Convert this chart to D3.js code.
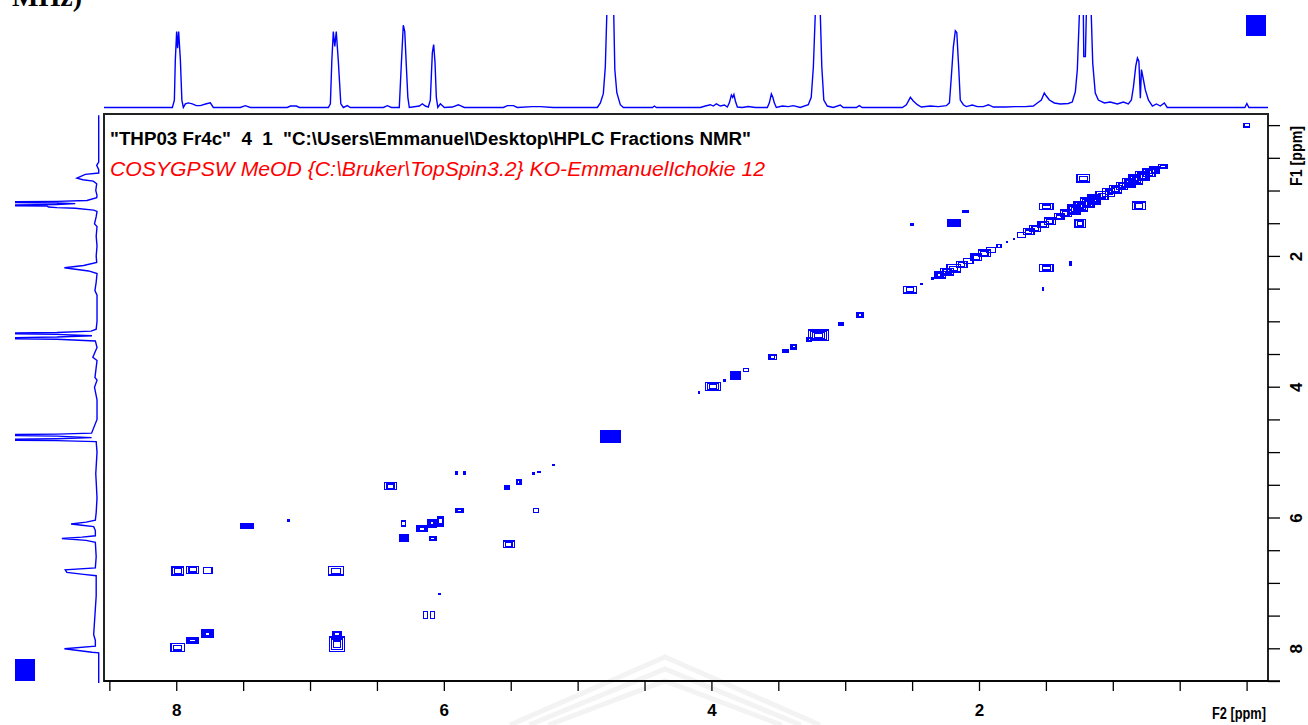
<!DOCTYPE html>
<html><head><meta charset="utf-8">
<script src="https://cdn.jsdelivr.net/npm/d3@7"></script>
<style>html,body{margin:0;padding:0;background:#fff;overflow:hidden}</style>
</head><body>
<svg id="chart" width="1308" height="725"></svg>
<script>
// ---------- data (ppm / relative intensity) ----------
// F2 projection (top): [ppm, intensity], 1 = clip level
const topTrace = [
[8.54,0],[8.029,0],[8.014,0.08],[8.007,0.51],[7.997,0.82],[7.990,0.64],[7.982,0.82],[7.969,0.51],[7.958,0.08],[7.947,0],
[7.932,0.04],[7.910,0.05],[7.880,0.04],[7.850,0.02],[7.820,0.02],[7.775,0.04],[7.745,0.05],[7.723,0],
[7.521,0],[7.484,0.02],[7.446,0],[7.170,0],[7.147,0.016],[7.102,0.016],[7.080,0],
[6.863,0],[6.848,0.04],[6.837,0.51],[6.826,0.82],[6.815,0.66],[6.804,0.82],[6.789,0.51],[6.770,0.04],[6.751,0],[6.721,0.02],[6.699,0],
[6.452,0],[6.422,0.02],[6.392,0],[6.333,0],[6.318,0.46],[6.303,0.89],[6.292,0.82],[6.280,0.44],[6.269,0.11],[6.258,0],
[6.183,0.016],[6.161,0.04],[6.138,0.016],[6.116,0.005],[6.101,0.08],[6.094,0.32],[6.086,0.59],[6.076,0.68],[6.066,0.49],[6.056,0.11],[6.045,0],
[6.026,0.04],[5.996,0],[5.936,0.005],[5.892,0.03],[5.847,0],[5.555,0],[5.525,0.02],[5.480,0.02],[5.451,0],[5.339,0.01],[5.279,0.01],[5.182,0],
[4.853,0],[4.830,0.05],[4.808,0.15],[4.793,0.44],[4.782,1.0],[4.756,1.8],[4.730,1.0],[4.722,0.41],[4.707,0.16],[4.681,0.03],[4.658,0],
[4.441,0],[4.426,0.016],[4.411,0],[4.083,0],[4.045,0.016],[4.008,0.03],[3.986,0.016],[3.963,0.04],[3.933,0.016],[3.903,0.027],[3.881,0.005],
[3.866,0.05],[3.851,0.135],[3.841,0.11],[3.832,0.14],[3.821,0.07],[3.806,0.005],[3.769,0],[3.724,0.01],[3.672,0],
[3.582,0],[3.567,0.05],[3.552,0.146],[3.541,0.11],[3.530,0.05],[3.515,0],[3.470,0.016],[3.425,0.01],[3.388,0.02],[3.336,0],
[3.276,0.03],[3.254,0.11],[3.238,0.44],[3.224,1.0],[3.205,1.8],[3.186,1.0],[3.175,0.44],[3.160,0.08],[3.134,0.016],[3.090,0],[3.037,0.027],[3.015,0],
[2.917,0],[2.895,0.02],[2.873,0],[2.573,0],[2.543,0.03],[2.513,0.11],[2.491,0.07],[2.461,0.03],[2.431,0.005],[2.364,0.016],[2.304,0.01],[2.244,0.02],
[2.221,0.05],[2.207,0.33],[2.192,0.65],[2.177,0.83],[2.166,0.81],[2.151,0.41],[2.140,0.08],[2.117,0.03],[2.095,0.01],[2.050,0.027],[2.012,0.01],
[1.968,0.01],[1.930,0.03],[1.893,0.005],[1.803,0.005],[1.729,0.01],[1.654,0.01],[1.594,0.016],[1.564,0.049],[1.534,0.081],[1.512,0.157],[1.497,0.124],
[1.474,0.081],[1.437,0.049],[1.392,0.038],[1.333,0.043],[1.303,0.059],
[1.280,0.17],[1.265,0.41],[1.250,1.0],[1.232,1.8],[1.220,1.0],[1.217,0.55],[1.205,0.55],[1.198,1.0],[1.179,1.8],[1.161,1.0],[1.150,0.48],[1.131,0.157],
[1.108,0.081],[1.063,0.049],[1.019,0.059],[0.966,0.038],[0.921,0.059],[0.884,0.038],[0.861,0.081],
[0.846,0.22],[0.828,0.45],[0.816,0.535],[0.805,0.50],[0.794,0.10],[0.786,0.41],[0.771,0.30],[0.757,0.19],[0.734,0.081],[0.704,0.016],[0.674,0.038],
[0.645,0.016],[0.615,0.049],[0.593,0],[0.013,0],[-0.002,0.043],[-0.017,0],[-0.16,0]
];
// F1 projection (left): [ppm, intensity]
const leftTrace = [
[-0.15,0],[0.565,0],[0.616,0.024],[0.68,0],[0.733,0],[0.754,0.16],[0.81,0.26],[0.835,0.19],[0.856,0.065],[0.896,0.024],[1.0,0.035],[1.075,0.02],
[1.11,0.024],[1.152,0.14],[1.166,0.5],[1.178,1.6],[1.19,0.5],[1.20,0.28],[1.214,0.5],[1.228,1.6],[1.236,0.62],[1.252,0.60],[1.262,0.5],[1.272,0.28],
[1.30,0.06],[1.32,0.02],[1.40,0.03],[1.51,0.05],[1.55,0.02],[1.70,0.03],[1.85,0.02],[2.0,0.03],[2.10,0.024],[2.147,0.18],[2.18,0.41],[2.20,0.30],
[2.23,0.12],[2.27,0.02],[2.40,0.03],[2.53,0.045],[2.60,0.02],[2.80,0.02],[3.0,0.02],[3.12,0.03],[3.15,0.09],[3.17,0.5],[3.184,1.6],[3.2,0.5],
[3.22,0.08],[3.24,0.5],[3.26,1.6],[3.275,0.5],[3.30,0.04],[3.40,0.02],[3.55,0.07],[3.60,0.02],[3.86,0.045],[3.90,0.02],[4.01,0.05],[4.2,0.02],
[4.5,0.02],[4.71,0.085],[4.725,0.5],[4.74,1.6],[4.755,0.5],[4.778,0.085],[4.795,0.5],[4.81,1.6],[4.825,0.5],[4.84,0.03],[5.0,0.02],[5.33,0.035],
[5.45,0.03],[5.70,0.02],[5.925,0.03],[6.04,0.04],[6.07,0.15],[6.10,0.33],[6.118,0.2],[6.14,0.06],[6.2,0.04],[6.28,0.04],[6.30,0.2],[6.32,0.44],
[6.35,0.15],[6.38,0.04],[6.6,0.03],[6.77,0.04],[6.80,0.40],[6.84,0.38],[6.87,0.18],[6.89,0.03],[7.2,0.03],[7.79,0.06],[7.88,0.04],[7.966,0.04],
[8.007,0.41],[8.03,0.27],[8.06,0.08],[8.07,0],[8.55,0]
];
// diagonal chain 2.6 - 0.6 ppm: [ppm, widthF2, widthF1, contour levels (0 = solid)]
const diagPeaks = [
[2.516,0.095,0.10,2],[2.43,0.02,0.03,0],[2.35,0.025,0.04,0],
[2.29,0.08,0.10,2],[2.24,0.10,0.10,2],[2.19,0.10,0.11,2],[2.13,0.08,0.09,2],[2.08,0.07,0.08,1],[2.02,0.08,0.10,2],[1.96,0.09,0.10,2],
[1.91,0.07,0.08,1],[1.85,0.03,0.05,1],[1.79,0.015,0.03,0],[1.74,0.015,0.03,0],
[1.68,0.06,0.08,1],[1.63,0.08,0.09,2],[1.58,0.08,0.09,2],[1.52,0.08,0.10,2],[1.47,0.08,0.10,2],[1.40,0.07,0.09,2],[1.35,0.08,0.10,2],
[1.29,0.09,0.14,3],[1.24,0.10,0.15,3],[1.19,0.10,0.15,3],[1.14,0.09,0.14,3],[1.08,0.09,0.12,2],[1.03,0.09,0.12,2],[0.98,0.09,0.12,2],
[0.93,0.08,0.11,2],[0.88,0.09,0.13,3],[0.83,0.10,0.14,3],[0.78,0.10,0.14,3],[0.73,0.09,0.12,2],[0.69,0.07,0.10,2]
];
// other peaks: [F2 ppm, F1 ppm, widthF2, widthF1, contour levels (0 = solid)]
const crossPeaks = [
[5.904,5.32,0.02,0.066,0],[5.847,5.32,0.02,0.066,0],[6.399,5.52,0.087,0.112,2],[5.883,5.894,0.062,0.061,2],
[7.471,6.129,0.10,0.10,0],[7.16,6.044,0.015,0.037,0],[6.301,6.09,0.032,0.077,1],[6.163,6.171,0.075,0.087,2],
[6.088,6.086,0.065,0.118,3],[6.024,6.06,0.045,0.138,2],[6.30,6.312,0.075,0.113,0],[6.084,6.317,0.05,0.061,2],
[7.988,6.818,0.087,0.122,2],[7.878,6.80,0.092,0.107,2],[7.764,6.81,0.062,0.086,1],[6.805,6.815,0.112,0.127,2],
[6.034,7.17,0.025,0.04,0],[6.136,7.492,0.03,0.10,1],[6.085,7.492,0.03,0.10,1],[7.766,7.775,0.082,0.107,3],
[7.878,7.88,0.092,0.10,3],[7.99,7.99,0.10,0.118,2],[6.798,7.78,0.06,0.066,2],[6.798,7.94,0.11,0.225,3],
[2.89,2.90,0.045,0.077,2],[3.031,3.04,0.037,0.05,2],[3.199,3.214,0.15,0.164,4],[3.271,3.283,0.03,0.057,2],
[3.386,3.392,0.04,0.061,2],[3.448,3.46,0.05,0.061,0],[3.544,3.548,0.057,0.067,2],[3.741,3.745,0.037,0.05,1],
[3.822,3.832,0.085,0.13,0],[3.904,3.904,0.02,0.03,0],[3.99,3.997,0.112,0.127,3],[4.093,4.092,0.02,0.04,0],
[4.756,4.763,0.16,0.20,0],[5.18,5.195,0.025,0.04,0],[5.289,5.306,0.03,0.04,0],[5.329,5.33,0.025,0.035,0],
[5.441,5.458,0.035,0.067,2],[5.531,5.542,0.045,0.072,0],[5.514,6.41,0.08,0.10,2],[5.31,5.89,0.035,0.06,1],
[0.627,0.634,0.062,0.066,2],[1.22,0.815,0.095,0.113,2],[1.497,1.248,0.10,0.092,2],[0.805,1.236,0.095,0.117,2],
[2.186,1.501,0.107,0.117,0],[2.10,1.32,0.055,0.03,0],[2.50,1.522,0.03,0.026,0],[1.247,1.507,0.082,0.127,3],
[1.497,2.185,0.10,0.107,2],[1.318,2.109,0.015,0.077,0],[1.521,2.504,0.017,0.07,0],[0.0,0.0,0.04,0.06,1]
];
const axisTicks = [8.5,8,7.5,7,6.5,6,5.5,5,4.5,4,3.5,3,2.5,2,1.5,1,0.5,0];
const axisLabels = [8,6,4,2];
const xTitle = "F2 [ppm]";
const yTitle = "F1 [ppm]";
const headerLine = '"THP03 Fr4c"  4  1  "C:\\Users\\Emmanuel\\Desktop\\HPLC Fractions NMR"';
const paramLine = 'COSYGPSW MeOD {C:\\Bruker\\TopSpin3.2} KO-EmmanuelIchokie 12';
const pageFragment = "MHz)";

// ---------- drawing ----------
const BLUE = "#0000ff";
const svg = d3.select("#chart");
const frame = {l:104, r:1268, t:114, b:681};
const x = d3.scaleLinear().domain([8.54,-0.16]).range([frame.l, frame.r]);
const y = d3.scaleLinear().domain([-0.17, 8.50]).range([frame.t, frame.b]);
const topI = d3.scaleLinear().domain([0,1]).range([107.5,15]);
const leftI = d3.scaleLinear().domain([0,1]).range([98.7,15]);

const defs = svg.append("defs");
defs.append("clipPath").attr("id","clipTop").append("rect").attr("x",frame.l).attr("y",15).attr("width",frame.r-frame.l).attr("height",98);
defs.append("clipPath").attr("id","clipLeft").append("rect").attr("x",15).attr("y",frame.t).attr("width",88).attr("height",frame.b-frame.t+2);
defs.append("clipPath").attr("id","clipPlot").append("rect").attr("x",frame.l).attr("y",frame.t).attr("width",frame.r-frame.l).attr("height",frame.b-frame.t);

// page fragment at top-left (cut by the page edge, as in the source)
svg.append("text").attr("x",12).attr("y",6).attr("font-family","Liberation Serif").attr("font-weight","bold")
  .attr("font-size",28).attr("fill","#000").text(pageFragment);

// faint watermark
const wm = svg.append("g").attr("fill","none").attr("stroke","#f3f3f3").attr("stroke-width",5);
[0,12,24].forEach(o => wm.append("polyline").attr("points",`${510+o*1.6},725 ${665},${657+o} ${820-o*1.6},725`));

// top projection
svg.append("path").datum(topTrace).attr("clip-path","url(#clipTop)")
  .attr("fill","none").attr("stroke",BLUE).attr("stroke-width",1.4)
  .attr("d", d3.line().x(d=>x(d[0])).y(d=>topI(d[1])));

// left projection
svg.append("path").datum(leftTrace).attr("clip-path","url(#clipLeft)")
  .attr("fill","none").attr("stroke",BLUE).attr("stroke-width",1.4)
  .attr("d", d3.line().x(d=>leftI(d[1])).y(d=>y(d[0])));

// blue squares
svg.append("rect").attr("x",1246).attr("y",15).attr("width",20).attr("height",21).attr("fill",BLUE);
svg.append("rect").attr("x",15).attr("y",659).attr("width",20).attr("height",22).attr("fill",BLUE);

// frame
svg.append("rect").attr("x",frame.l).attr("y",frame.t).attr("width",frame.r-frame.l).attr("height",frame.b-frame.t)
  .attr("fill","none").attr("stroke","#222").attr("stroke-width",1.2).attr("shape-rendering","crispEdges");

// contour peaks
const plot = svg.append("g").attr("clip-path","url(#clipPlot)").attr("shape-rendering","crispEdges");
function drawPeak(f2, f1, w2, w1, lv){
  const cx = x(f2), cy = y(f1);
  const pw = Math.max(2.5, Math.abs(x(0)-x(w2))), ph = Math.max(2.5, Math.abs(y(w1)-y(0)));
  if (lv === 0 || (pw < 4 && ph < 4)) {
    plot.append("rect").attr("x",cx-pw/2).attr("y",cy-ph/2).attr("width",pw).attr("height",ph).attr("fill",BLUE);
    return;
  }
  for (let k=0;k<lv;k++){
    const s = 1 - k*(0.8/lv);
    const rw = Math.max(1.5,pw*s), rh = Math.max(1.5,ph*s);
    plot.append("rect").attr("x",cx-rw/2).attr("y",cy-rh/2).attr("width",rw).attr("height",rh)
      .attr("fill","none").attr("stroke",BLUE).attr("stroke-width",1.3);
  }
}
diagPeaks.forEach(d => drawPeak(d[0], d[0], d[1], d[2], d[3]));
crossPeaks.forEach(d => drawPeak(d[0], d[1], d[2], d[3], d[4]));

// header texts
svg.append("text").attr("x",110).attr("y",145).attr("font-family","Liberation Sans").attr("font-weight","bold")
  .attr("font-size",18).attr("fill","#000").style("white-space","pre")
  .attr("textLength",641).attr("lengthAdjust","spacingAndGlyphs").text(headerLine);
svg.append("text").attr("x",110).attr("y",176).attr("font-family","Liberation Sans").attr("font-style","italic")
  .attr("font-size",21).attr("fill","#ff0000").style("white-space","pre")
  .attr("textLength",655).attr("lengthAdjust","spacingAndGlyphs").text(paramLine);

// bottom axis
const xAxis = d3.axisBottom(x).tickValues(axisTicks).tickSize(10).tickSizeOuter(0)
  .tickFormat(d => axisLabels.includes(d) ? d : "");
const gx = svg.append("g").attr("transform",`translate(0,${frame.b})`).call(xAxis);
gx.select(".domain").remove();
gx.selectAll(".tick line").attr("stroke","#000").attr("stroke-width",1.3);
gx.selectAll(".tick text").attr("y",23).attr("font-family","Liberation Sans").attr("font-weight","bold")
  .attr("font-size",17).attr("fill","#000");
svg.append("line").attr("x1",frame.l).attr("x2",frame.r+12).attr("y1",frame.b).attr("y2",frame.b)
  .attr("stroke","#000").attr("stroke-width",1.3);
svg.append("text").attr("x",1266).attr("y",719).attr("text-anchor","end").attr("font-family","Liberation Sans")
  .attr("font-weight","bold").attr("font-size",16).attr("fill","#000")
  .attr("textLength",54).attr("lengthAdjust","spacingAndGlyphs").text(xTitle);

// right axis
const yAxis = d3.axisRight(y).tickValues(axisTicks).tickSize(12).tickSizeOuter(0)
  .tickFormat(d => axisLabels.includes(d) ? d : "");
const gy = svg.append("g").attr("transform",`translate(${frame.r},0)`).call(yAxis);
gy.select(".domain").remove();
gy.selectAll(".tick line").attr("stroke","#000").attr("stroke-width",1.3);
gy.selectAll(".tick text").attr("x",0).attr("text-anchor","middle")
  .attr("transform","translate(28,0) rotate(-90)").attr("dy","0.35em")
  .attr("font-family","Liberation Sans").attr("font-weight","bold").attr("font-size",17).attr("fill","#000");
svg.append("text").attr("transform",`translate(1302,156) rotate(-90)`).attr("text-anchor","middle")
  .attr("font-family","Liberation Sans").attr("font-weight","bold").attr("font-size",16).attr("fill","#000")
  .attr("textLength",60).attr("lengthAdjust","spacingAndGlyphs").text(yTitle);
</script>
</body></html>
